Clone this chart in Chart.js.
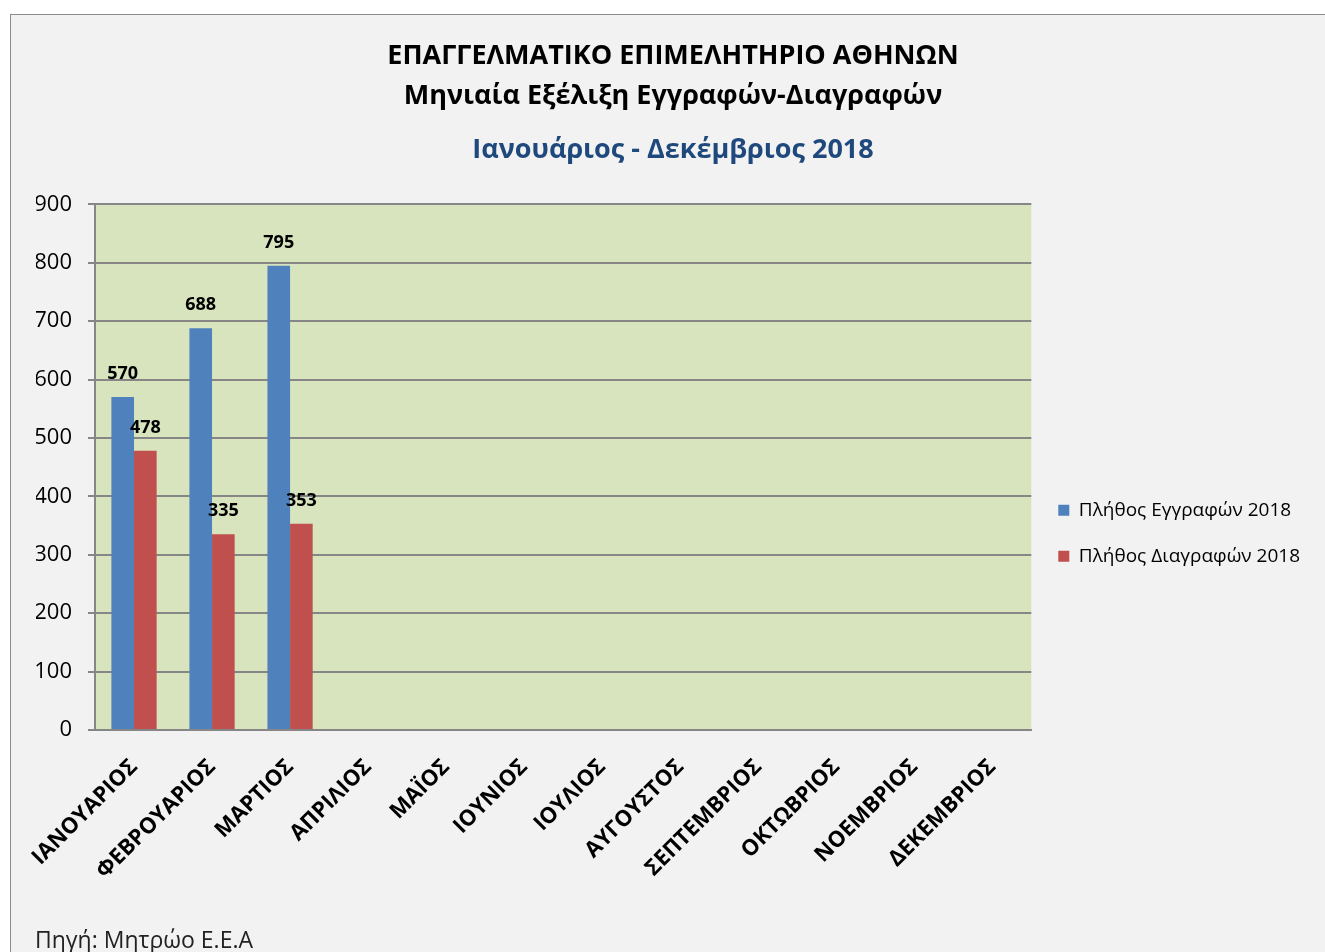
<!DOCTYPE html>
<html>
<head>
<meta charset="utf-8">
<script src="https://cdn.jsdelivr.net/npm/chart.js@4/dist/chart.umd.min.js"></script>
<style>
  body { margin: 0; background: #fff; }
  #frame {
    position: absolute; left: 10px; top: 14px; width: 1330px; height: 960px;
    background: #f2f2f2; border: 1px solid #8c8c8c; box-sizing: border-box;
  }
  #wrap { position: absolute; left: 0; top: 0; width: 1314px; height: 937px; }
  #source {
    position: absolute; left: 24px; top: 908px;
    font: 23px "Open Sans", sans-serif; color: #222;
  }
</style>
</head>
<body>
<div id="frame">
  <div id="wrap"><canvas id="bar-chart"></canvas></div>
  <div id="source">Πηγή: Μητρώο Ε.Ε.Α</div>
</div>
<script>
var months = ["ΙΑΝΟΥΑΡΙΟΣ", "ΦΕΒΡΟΥΑΡΙΟΣ", "ΜΑΡΤΙΟΣ", "ΑΠΡΙΛΙΟΣ", "ΜΑΪΟΣ", "ΙΟΥΝΙΟΣ",
              "ΙΟΥΛΙΟΣ", "ΑΥΓΟΥΣΤΟΣ", "ΣΕΠΤΕΜΒΡΙΟΣ", "ΟΚΤΩΒΡΙΟΣ", "ΝΟΕΜΒΡΙΟΣ", "ΔΕΚΕΜΒΡΙΟΣ"];
var registrations = [570, 688, 795, null, null, null, null, null, null, null, null, null];
var deletions = [478, 335, 353, null, null, null, null, null, null, null, null, null];
var yTicks = [0, 100, 200, 300, 400, 500, 600, 700, 800, 900];

var font = "'Open Sans', sans-serif";

// green plot area
var plotBg = {
    id: 'plotBg',
    beforeDraw: function (chart) {
        var a = chart.chartArea, ctx = chart.ctx;
        ctx.save();
        ctx.fillStyle = '#d7e4bd';
        ctx.fillRect(a.left, a.top, a.right - a.left, a.bottom - a.top);
        ctx.restore();
    }
};

// value labels above bars
var valueLabels = {
    id: 'valueLabels',
    afterDatasetsDraw: function (chart) {
        var ctx = chart.ctx;
        ctx.save();
        ctx.font = 'bold 18px ' + font;
        ctx.fillStyle = '#000';
        ctx.textAlign = 'center';
        ctx.textBaseline = 'middle';
        chart.data.datasets.forEach(function (ds, i) {
            chart.getDatasetMeta(i).data.forEach(function (bar, j) {
                if (ds.data[j] == null) return;
                ctx.fillText(ds.data[j], bar.x, bar.y - 23);
            });
        });
        ctx.restore();
    }
};

new Chart(document.getElementById('bar-chart'), {
    type: 'bar',
    data: {
        labels: months,
        datasets: [
            {
                label: 'Πλήθος Εγγραφών 2018',
                data: registrations,
                backgroundColor: '#4f81bd'
            },
            {
                label: 'Πλήθος Διαγραφών 2018',
                data: deletions,
                backgroundColor: '#c0504d'
            }
        ]
    },
    options: {
        responsive: true,
        maintainAspectRatio: false,
        animation: false,
        barPercentage: 1,
        categoryPercentage: 0.58,
        layout: { padding: { left: 25, right: 15, top: 0, bottom: 0 } },
        plugins: {
            title: {
                display: true,
                text: ['ΕΠΑΓΓΕΛΜΑΤΙΚΟ ΕΠΙΜΕΛΗΤΗΡΙΟ ΑΘΗΝΩΝ', 'Μηνιαία Εξέλιξη Εγγραφών-Διαγραφών'],
                color: '#000',
                font: { family: font, size: 27, weight: 'bold', lineHeight: 1.48 },
                padding: { top: 21, bottom: 9 }
            },
            subtitle: {
                display: true,
                text: 'Ιανουάριος - Δεκέμβριος 2018',
                color: '#1f497d',
                font: { family: font, size: 27, weight: 'bold', lineHeight: 1.2 },
                padding: { top: 9, bottom: 38 }
            },
            legend: {
                position: 'right',
                title: { display: true, text: '', padding: { top: 0, bottom: 85 } },
                labels: {
                    color: '#000',
                    font: { family: font, size: 19 },
                    boxWidth: 11,
                    boxHeight: 11,
                    padding: 27
                }
            },
            tooltip: { enabled: false }
        },
        scales: {
            x: {
                grid: { display: false },
                border: { display: true, color: '#868686', width: 2 },
                ticks: {
                    color: '#000',
                    font: { family: font, size: 22, weight: 'bold' },
                    minRotation: 45,
                    maxRotation: 45,
                    autoSkip: false,
                    padding: 16
                },
                afterFit: function (s) { s.height = 222; }
            },
            y: {
                min: 0,
                max: 900,
                afterBuildTicks: function (s) {
                    s.ticks = yTicks.map(function (v) { return { value: v }; });
                },
                grid: { color: '#868686', lineWidth: 2, tickLength: 7 },
                border: { display: true, color: '#868686', width: 2 },
                ticks: {
                    color: '#000',
                    font: { family: font, size: 22 },
                    padding: 16
                },
                afterFit: function (s) { s.width = 59; }
            }
        }
    },
    plugins: [plotBg, valueLabels]
});
</script>
</body>
</html>
